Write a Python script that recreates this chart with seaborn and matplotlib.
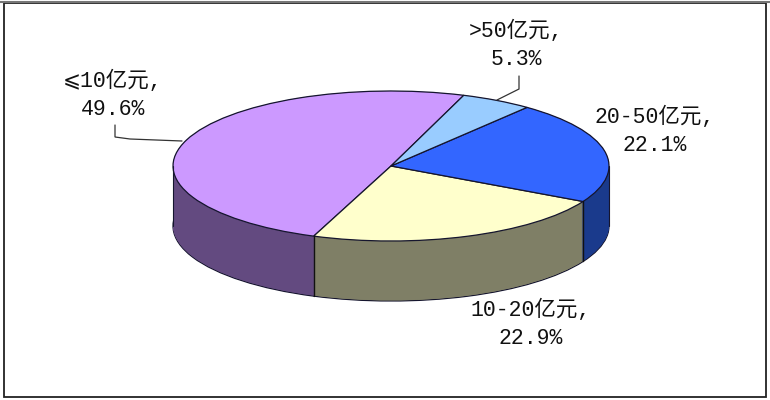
import numpy as np
import matplotlib
matplotlib.use('Agg')
import matplotlib.pyplot as plt
from matplotlib.lines import Line2D
from matplotlib.patches import Rectangle
import seaborn as sns

# shares, in drawing order
names = ['⩽10亿元', '10-20亿元', '20-50亿元', '>50亿元']
shares = [49.6, 22.9, 22.1, 5.3]
top_colors = ['#CC99FF', '#FFFFCC', '#3366FF', '#99CCFF']
wall_colors = ['#634A80', '#7F7F66', '#1A3A8C', '#4C6680']

W, H = 770, 400
START_ANGLE = 70.5
# pie centre and ellipse size in pixels
CX, CY, RX, RY = 391, 166, 218, 75
DEPTH = 0.8  # wall height in pie radii
EDGE = '#15152e'

# label centres in pixels, same order as names
label_xy = [(113, 95), (531, 324), (655, 131), (516, 45)]

sns.set_theme(style='white')
plt.rcParams['font.family'] = ['Liberation Mono', 'Noto Sans CJK SC', 'DejaVu Sans']


def px(x, y):
    """Pixel position from the top left corner to figure fraction."""
    return x / W, 1 - y / H


fig = plt.figure(figsize=(W / 100, H / 100), dpi=100)
ax = fig.add_axes([0, 0, 1, 1])

# the wall is a stack of pies pushed downward, deepest first
offsets = np.linspace(DEPTH, 0, 121)
for i, off in enumerate(offsets):
    ax.pie(shares, colors=wall_colors, startangle=START_ANGLE, center=(0, -off),
           wedgeprops={'linewidth': 0.9 if i == 0 else 0, 'edgecolor': EDGE})

ax.pie(shares, colors=top_colors, startangle=START_ANGLE,
       wedgeprops={'linewidth': 0.9, 'edgecolor': EDGE})

# the seams between wall sections, only on the front of the pie
cuts = np.deg2rad(START_ANGLE + 360 * np.cumsum([0] + shares[:-1]) / sum(shares))
for cut in cuts:
    if np.sin(cut) < 0:
        ax.plot([np.cos(cut)] * 2, [np.sin(cut), np.sin(cut) - DEPTH], color='#111111', lw=1.0)
for side in (-1, 1):
    ax.plot([side, side], [0, -DEPTH], color=EDGE, lw=0.8)

# squash the pie into an ellipse
ax.set_aspect('auto')
ax.set_xlim(-CX / RX, (W - CX) / RX)
ax.set_ylim(-(H - CY) / RY, CY / RY)
ax.axis('off')

for name, share, (x, y) in zip(names, shares, label_xy):
    fx, fy = px(x, y)
    fig.text(fx, fy, f'{name},\n{share}%', ha='center', va='center', multialignment='center',
             fontsize=15.5, color='#111111', linespacing=1.45)

# leader lines
for xs, ys in [((115, 115, 130, 182), (125, 137, 139, 141)),
               ((519, 519, 497), (76, 89, 100))]:
    fig.add_artist(Line2D([x / W for x in xs], [1 - y / H for y in ys], color='#333333', lw=0.9,
                          solid_joinstyle='miter'))

# chart border
fig.add_artist(Rectangle(px(4, 397), 762 / W, 394 / H, fill=False, edgecolor='#222222', lw=1.3,
                         transform=fig.transFigure))
fig.add_artist(Line2D([0, 1], [1 - 1.5 / H] * 2, color='#777777', lw=1.5))

fig.savefig('out.png', dpi=100)
